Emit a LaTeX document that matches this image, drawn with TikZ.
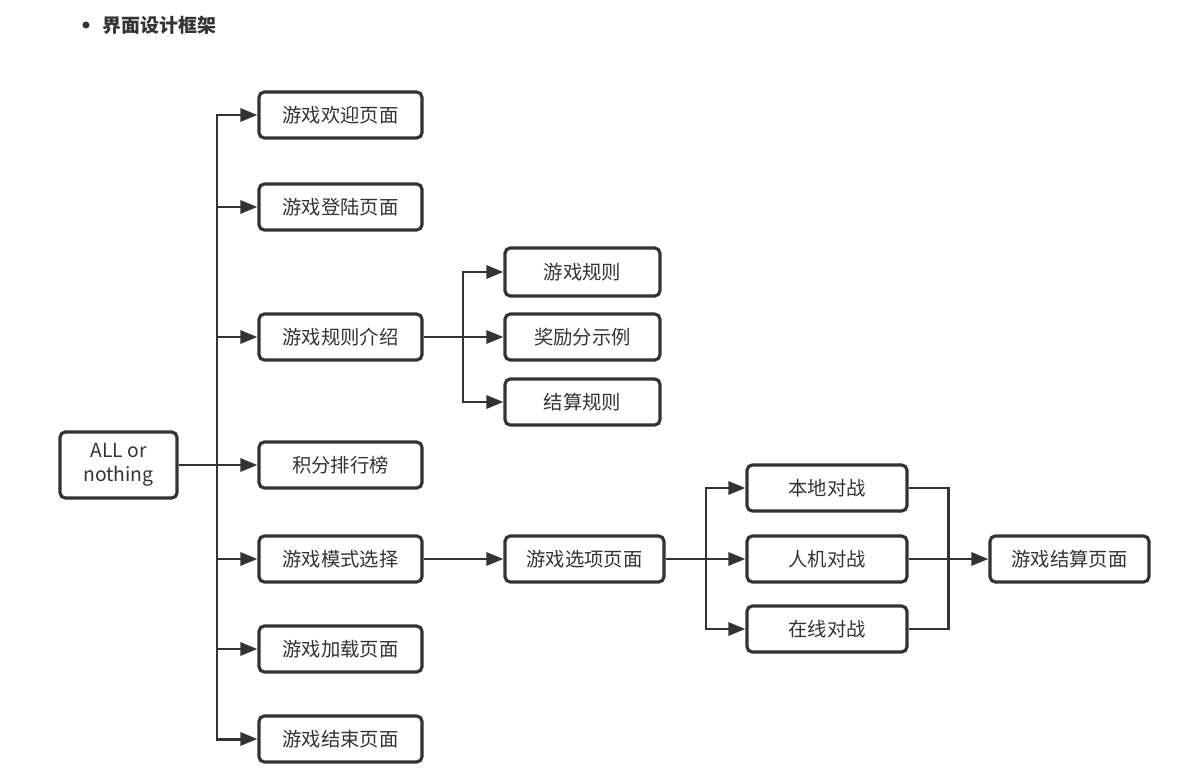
\documentclass[tikz,border=0pt]{standalone}
\usepackage{fontspec}
\setmainfont{Noto Sans CJK SC}
\usetikzlibrary{arrows.meta,positioning,calc}
\definecolor{ink}{HTML}{333333}

\begin{document}
\begin{tikzpicture}[
  x=0.02cm, y=-0.02cm,
  box/.style={draw=ink, line width=1.8pt, rounded corners=3pt, minimum width=3.2cm, minimum height=0.92cm, align=center, text=ink, font=\fontsize{11}{14}\selectfont},
  wide/.style={box, minimum width=3.26cm},
  link/.style={-{Triangle[length=0.34cm, width=0.26cm]}, draw=ink, line width=1.7pt},
  merged/.style={draw=ink, line width=1.7pt}
]
\useasboundingbox (0,0) rectangle (1184,781);

% heading
\node[circle, fill=ink, inner sep=0pt, minimum size=4pt] (dot) at (86,25) {};
\node[anchor=west, text=ink, font=\fontsize{10.8}{13}\selectfont\bfseries] (title) at (96,25) {界面设计框架};

% root and first level
\node[box, minimum width=2.34cm, minimum height=1.32cm] (all) at (118.5,465) {ALL or\\nothing};
\node[wide] (welcome) at (340.5,115) {游戏欢迎页面};
\node[wide] (login) at (340.5,207) {游戏登陆页面};
\node[wide] (rules) at (340.5,337) {游戏规则介绍};
\node[wide] (rank) at (340.5,465) {积分排行榜};
\node[wide] (mode) at (340.5,559) {游戏模式选择};
\node[wide] (load) at (340.5,649) {游戏加载页面};
\node[wide] (over) at (340.5,739) {游戏结束页面};

% rules
\node[box, minimum width=3.1cm, minimum height=0.96cm] (rule) at (582.5,272) {游戏规则};
\node[box, minimum width=3.1cm] (bonus) at (582.5,337) {奖励分示例};
\node[box, minimum width=3.1cm] (settle) at (582.5,402) {结算规则};

% modes
\node[box, minimum width=3.18cm] (option) at (584.5,559) {游戏选项页面};
\node[box] (local) at (827,488) {本地对战};
\node[box] (ai) at (827,559) {人机对战};
\node[box] (online) at (827,629) {在线对战};
\node[box, minimum width=3.18cm] (result) at (1069.5,559) {游戏结算页面};

\coordinate (trunk) at (217,465);
\coordinate (rfork) at (463,337);
\coordinate (bfork) at (706,559);
\coordinate (merge) at (948,559);

\foreach \n in {welcome,login,rules,rank,mode,load,over}
  \draw[link] (all.east) -- (trunk) |- (\n.west);
\foreach \n in {rule,bonus,settle}
  \draw[link] (rules.east) -- (rfork) |- (\n.west);
\draw[link] (mode) -- (option);
\foreach \n in {local,ai,online}
  \draw[link] (option.east) -- (bfork) |- (\n.west);
\draw[merged] (local.east) -| (merge);
\draw[merged] (online.east) -| (merge);
\draw[link] (ai.east) -- (result);

\end{tikzpicture}
\end{document}
